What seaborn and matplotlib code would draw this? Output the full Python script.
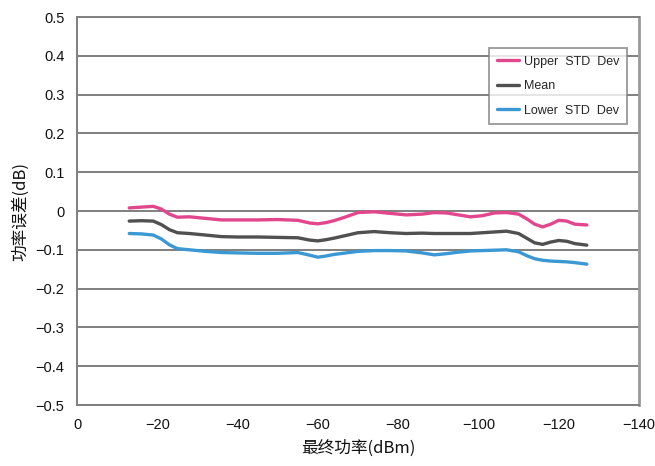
import numpy as np
import pandas as pd
import matplotlib
matplotlib.use("Agg")
import matplotlib.pyplot as plt
import seaborn as sns

# Final output power (dBm)
power = [-13, -16, -19, -21, -23, -25, -28, -32, -36, -40, -45, -50, -55, -58, -60,
         -62, -64, -67, -70, -74, -78, -82, -86, -89, -92, -95, -98, -101, -104,
         -107, -110, -112, -114, -116, -118, -120, -122, -124, -127]

# Power error (dB)
upper_std = [0.008, 0.010, 0.012, 0.005, -0.008, -0.016, -0.015, -0.019, -0.023, -0.023,
             -0.023, -0.022, -0.024, -0.031, -0.033, -0.030, -0.025, -0.015, -0.004,
             -0.002, -0.006, -0.010, -0.008, -0.004, -0.005, -0.010, -0.015, -0.012,
             -0.005, -0.004, -0.008, -0.020, -0.034, -0.041, -0.034, -0.024, -0.026,
             -0.034, -0.036]
mean_err = [-0.026, -0.025, -0.026, -0.035, -0.048, -0.056, -0.058, -0.062, -0.066, -0.067,
            -0.067, -0.068, -0.069, -0.075, -0.077, -0.074, -0.070, -0.063, -0.056,
            -0.053, -0.056, -0.058, -0.057, -0.058, -0.058, -0.058, -0.058, -0.056,
            -0.054, -0.052, -0.058, -0.070, -0.082, -0.086, -0.080, -0.076, -0.078,
            -0.084, -0.088]
lower_std = [-0.058, -0.059, -0.062, -0.072, -0.087, -0.097, -0.100, -0.104, -0.107, -0.108,
             -0.109, -0.109, -0.107, -0.114, -0.119, -0.116, -0.112, -0.108, -0.104,
             -0.102, -0.102, -0.103, -0.108, -0.113, -0.110, -0.106, -0.103, -0.102,
             -0.101, -0.100, -0.105, -0.115, -0.123, -0.127, -0.129, -0.130, -0.131,
             -0.133, -0.137]

series_names = ["Upper  STD  Dev", "Mean", "Lower  STD  Dev"]
x_ticks = [0, -20, -40, -60, -80, -100, -120, -140]
y_ticks = [0.5, 0.4, 0.3, 0.2, 0.1, 0, -0.1, -0.2, -0.3, -0.4, -0.5]

df = pd.concat([
    pd.DataFrame({"power": power, "error": upper_std, "series": series_names[0]}),
    pd.DataFrame({"power": power, "error": mean_err, "series": series_names[1]}),
    pd.DataFrame({"power": power, "error": lower_std, "series": series_names[2]}),
], ignore_index=True)

sns.set_theme(style="white")
plt.rcParams["font.family"] = ["Liberation Sans", "Noto Sans CJK SC", "DejaVu Sans"]

fig = plt.figure(figsize=(6.55, 4.66), dpi=100)
ax = fig.add_axes([0.1176, 0.1309, 0.8580, 0.8326])

grid_col = "#7f7f7f"
for yv in y_ticks:
    ax.axhline(yv, color=grid_col, lw=1.4, zorder=0)

palette = {series_names[0]: "#e2468c", series_names[1]: "#505050", series_names[2]: "#3b98d3"}
sns.lineplot(data=df, x="power", y="error", hue="series", palette=palette,
             linewidth=2.4, ax=ax, sort=False, estimator=None,
             solid_joinstyle="round", solid_capstyle="round")

ax.set_xlim(0, -140)
ax.set_ylim(-0.5, 0.5)
ax.set_xticks(x_ticks)
ax.set_xticklabels([("\u2212" + str(abs(v))) if v < 0 else str(v) for v in x_ticks])
ax.set_yticks(y_ticks)
ax.set_yticklabels([("\u2212" if v < 0 else "") + (f"{abs(v):.1f}" if v != 0 else "0")
                    for v in y_ticks])
ax.tick_params(axis="both", labelsize=10.5, colors="#111111", length=3, width=1,
               direction="out", pad=6)
ax.tick_params(axis="x", color=grid_col)
ax.tick_params(axis="y", color=grid_col)

for side in ["left", "right", "top", "bottom"]:
    ax.spines[side].set_color(grid_col)
    ax.spines[side].set_linewidth(1.4)
ax.spines["right"].set_linewidth(2.0)
ax.spines["right"].set_color("#9a9a9a")

ax.set_xlabel("最终功率(dBm)", fontsize=12, family=["Noto Sans CJK SC", "DejaVu Sans"],
              color="#111111", labelpad=6)
ax.set_ylabel("功率误差(dB)", fontsize=12, family=["Noto Sans CJK SC", "DejaVu Sans"],
              color="#111111", labelpad=5)

leg = ax.legend(loc="upper right", bbox_to_anchor=(0.979, 0.92), fontsize=9,
                frameon=True, fancybox=False, handlelength=1.8, handletextpad=0.4,
                borderpad=0.6, labelspacing=1.0, borderaxespad=0)
leg.get_frame().set_edgecolor(grid_col)
leg.get_frame().set_linewidth(1.3)
for line in leg.get_lines():
    line.set_linewidth(2.4)

fig.savefig("out.png", dpi=100)
